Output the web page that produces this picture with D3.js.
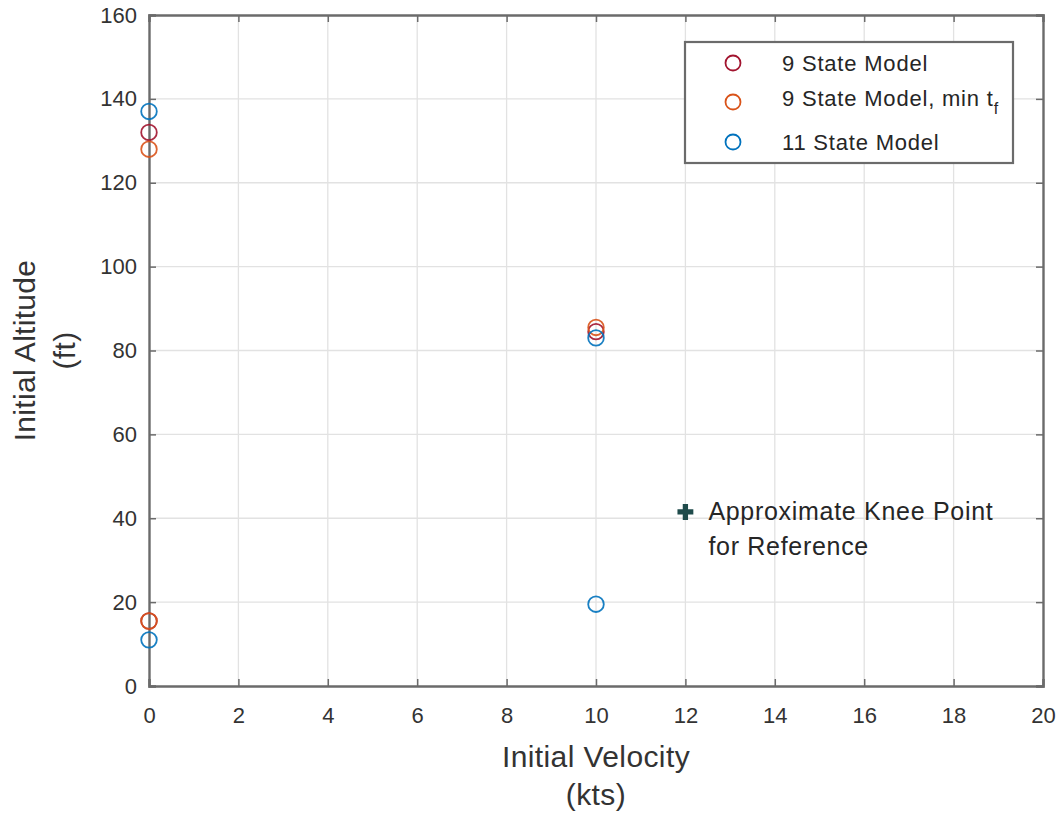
<!DOCTYPE html>
<html>
<head>
<meta charset="utf-8">
<script src="https://cdn.jsdelivr.net/npm/d3@7"></script>
<style>
  body { margin: 0; background: #fff; }
  svg { font-family: "Liberation Sans", Arial, sans-serif; }
</style>
</head>
<body>
<svg class="scatter" width="1060" height="816"></svg>
<script>
// series values
let nineState = [{v: 0, h: 132}, {v: 0, h: 15.5}, {v: 10, h: 84.5}];
let nineStateMinTf = [{v: 0, h: 128}, {v: 0, h: 15.5}, {v: 10, h: 85.5}];
let elevenState = [{v: 0, h: 137}, {v: 0, h: 11}, {v: 10, h: 83}, {v: 10, h: 19.5}];
let kneePoint = [{v: 12, h: 41.5}];

let xTicks = [0, 2, 4, 6, 8, 10, 12, 14, 16, 18, 20];
let yTicks = [0, 20, 40, 60, 80, 100, 120, 140, 160];

let seriesNames = ["9 State Model", "9 State Model, min t", "11 State Model"];
let seriesColors = ["#A2142F", "#D95319", "#0072BD"];

let svg = d3.select(".scatter");

let margin = { top: 15, right: 17, bottom: 130, left: 149 };
let plotWidth = 1060 - margin.left - margin.right;
let plotHeight = 816 - margin.top - margin.bottom;

let x = d3.scaleLinear().domain([0, 20]).range([0, plotWidth]);
let y = d3.scaleLinear().domain([0, 160]).range([plotHeight, 0]);

let plot = svg.append("g").attr("transform", translate(margin.left, margin.top));

// grid
plot.append("g").selectAll("line")
  .data(xTicks.slice(1, -1))
  .join("line")
  .attr("x1", d => x(d)).attr("x2", d => x(d))
  .attr("y1", 0).attr("y2", plotHeight)
  .attr("stroke", "#e2e2e2").attr("stroke-width", 1.3);
plot.append("g").selectAll("line")
  .data(yTicks.slice(1, -1))
  .join("line")
  .attr("y1", d => y(d)).attr("y2", d => y(d))
  .attr("x1", 0).attr("x2", plotWidth)
  .attr("stroke", "#e2e2e2").attr("stroke-width", 1.3);

// axes (ticks point inward, box on)
let axisColor = "#6b6b6b";
let tickLen = 7;

let xAxis = d3.axisBottom(x).tickValues(xTicks).tickSize(-tickLen).tickPadding(tickLen + 14);
let yAxis = d3.axisLeft(y).tickValues(yTicks).tickSize(-tickLen).tickPadding(tickLen + 5);

let xGroup = plot.append("g").attr("transform", translate(0, plotHeight)).call(xAxis);
let yGroup = plot.append("g").call(yAxis);
let xTop = plot.append("g").call(d3.axisTop(x).tickValues(xTicks).tickSize(-tickLen).tickFormat(""));
let yRight = plot.append("g").attr("transform", translate(plotWidth, 0))
  .call(d3.axisRight(y).tickValues(yTicks).tickSize(-tickLen).tickFormat(""));

[xGroup, yGroup, xTop, yRight].forEach(g => {
  g.select(".domain").attr("stroke", axisColor).attr("stroke-width", 2.4);
  g.selectAll(".tick line").attr("stroke", axisColor).attr("stroke-width", 1.5);
  g.selectAll(".tick text").attr("fill", "#333").style("font-size", "22px");
});
xGroup.selectAll(".tick text").attr("dy", "0.71em");

// markers
let allSeries = [nineState, nineStateMinTf, elevenState];
allSeries.forEach((s, i) => {
  plot.append("g").selectAll("circle")
    .data(s)
    .join("circle")
    .attr("cx", d => x(d.v))
    .attr("cy", d => y(d.h))
    .attr("r", 7.8)
    .attr("fill", "none")
    .attr("stroke", seriesColors[i])
    .attr("stroke-width", 1.8)
    .attr("opacity", 0.9);
});

// knee point
let plusSym = d3.symbol().type(d3.symbolCross).size(140);
let knee = plot.append("g");
knee.selectAll("path")
  .data(kneePoint)
  .join("path")
  .attr("d", plusSym)
  .attr("transform", d => translate(x(d.v), y(d.h)))
  .attr("fill", "#1f4b4b");
knee.selectAll("text")
  .data(kneePoint)
  .join("text")
  .attr("x", d => x(d.v) + 23)
  .attr("y", d => y(d.h) + 8)
  .attr("fill", "#262626")
  .style("font-size", "25px")
  .style("letter-spacing", "0.7px")
  .call(t => {
    t.append("tspan").text("Approximate Knee Point");
    t.append("tspan").attr("x", d => x(d.v) + 23).attr("dy", 35).text("for Reference");
  });

// legend
let legend = svg.append("g").attr("transform", translate(685, 42));
legend.append("rect")
  .attr("width", 328).attr("height", 121)
  .attr("fill", "#fff")
  .attr("stroke", axisColor).attr("stroke-width", 2.2);
let legendY = [21, 60, 100];
let items = legend.selectAll("g.item")
  .data(seriesNames)
  .join("g")
  .attr("class", "item")
  .attr("transform", (d, i) => translate(0, legendY[i]));
items.append("circle")
  .attr("cx", 48).attr("r", 7.5)
  .attr("fill", "none")
  .attr("stroke", (d, i) => seriesColors[i])
  .attr("stroke-width", 1.8);
items.append("text")
  .attr("x", 97).attr("y", 8)
  .attr("fill", "#262626")
  .style("font-size", "22px")
  .style("letter-spacing", "0.8px")
  .text(d => d)
  .filter((d, i) => i === 1)
  .append("tspan")
  .attr("dy", 8)
  .style("font-size", "16px")
  .text("f");
items.filter((d, i) => i === 1).select("text").attr("y", 4);

// axis labels
let xLabelX = margin.left + plotWidth / 2;
svg.append("text")
  .attr("x", xLabelX)
  .attr("y", 767)
  .attr("text-anchor", "middle")
  .attr("fill", "#333")
  .style("font-size", "30px")
  .style("letter-spacing", "0.4px")
  .call(t => {
    t.append("tspan").text("Initial Velocity");
    t.append("tspan").attr("x", xLabelX).attr("dy", 38).text("(kts)");
  });

let yLabelY = -(margin.top + plotHeight / 2);
svg.append("text")
  .attr("transform", "rotate(-90)")
  .attr("x", yLabelY)
  .attr("y", 35)
  .attr("text-anchor", "middle")
  .attr("fill", "#333")
  .style("font-size", "30px")
  .style("letter-spacing", "0.3px")
  .call(t => {
    t.append("tspan").text("Initial Altitude");
    t.append("tspan").attr("x", yLabelY).attr("dy", 40).text("(ft)");
  });

function translate(x, y) {
  return 'translate(' + x + ',' + y + ')';
}
</script>
</body>
</html>
